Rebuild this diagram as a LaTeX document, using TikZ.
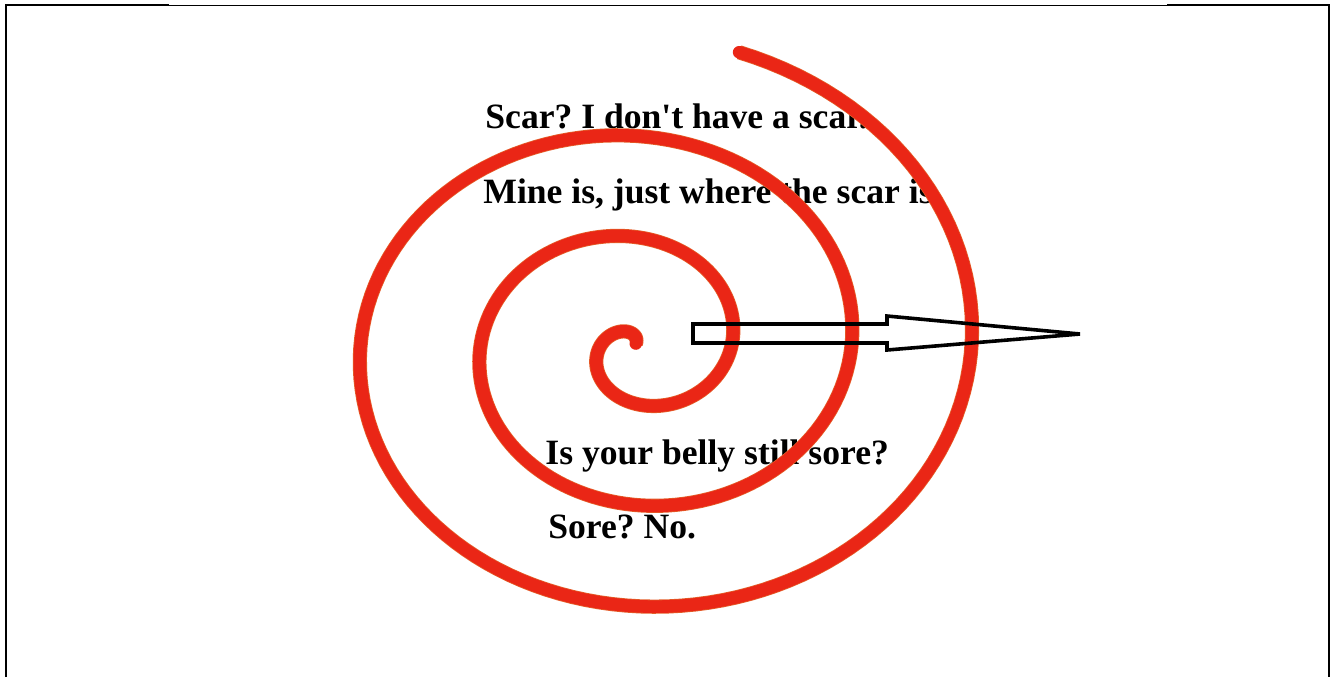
\documentclass[tikz,border=0pt]{standalone}
\usepackage{fontspec}
\setmainfont{Liberation Serif}
\usepackage{tikz}
\usetikzlibrary{positioning,calc}

\definecolor{scarred}{RGB}{234,38,22}
\definecolor{scaredge}{RGB}{228,92,40}

\begin{document}
\frenchspacing
\begin{tikzpicture}[
    x=0.5pt, y=-0.5pt,
    frame/.style={draw=black, line width=1.25pt},
    thinframe/.style={draw=black, line width=0.5pt},
    quote/.style={font=\fontsize{17.8}{21}\selectfont\bfseries, anchor=base west, inner sep=0pt},
    spiral/.style={draw=scarred, line width=6.3pt, line cap=round, line join=round,
        preaction={draw=scaredge, line width=7.1pt}},
    blockarrow/.style={draw=black, line width=1.8pt, line join=miter},
]
\useasboundingbox (0,0) rectangle (1339,677);

% Frame (open at the bottom)
\draw[frame] (6,677) -- (6,5) -- (169,5);
\draw[thinframe] (169,5.5) -- (1167,5.5);
\draw[frame] (1167,5) -- (1329,5) -- (1329,677);

% Quotes
\node[quote] (scar)  at (485,128) {Scar? I don\textquotesingle t have a scar.};
\node[quote] (mine)  at (483,203) {Mine is, just where the scar is.};
\node[quote] (belly) at (545,464) {Is your belly still sore?};
\node[quote] (sore)  at (548,538) {Sore? No.};

% Spiral: wider sideways than up and down, from the curl outwards
\draw[spiral] plot[domain=1.25:20.13, samples=420, variable=\t]
    ({636+(-24.5+19.1*\t)*cos(\t r)}, {345.75-(-17.75+16.1*\t)*sin(\t r)});

% Block arrow (outline only)
\draw[blockarrow] (693,324) -- (887,324) -- (887,316) -- (1080,334)
    -- (887,350) -- (887,343) -- (693,343) -- cycle;
\end{tikzpicture}
\end{document}
